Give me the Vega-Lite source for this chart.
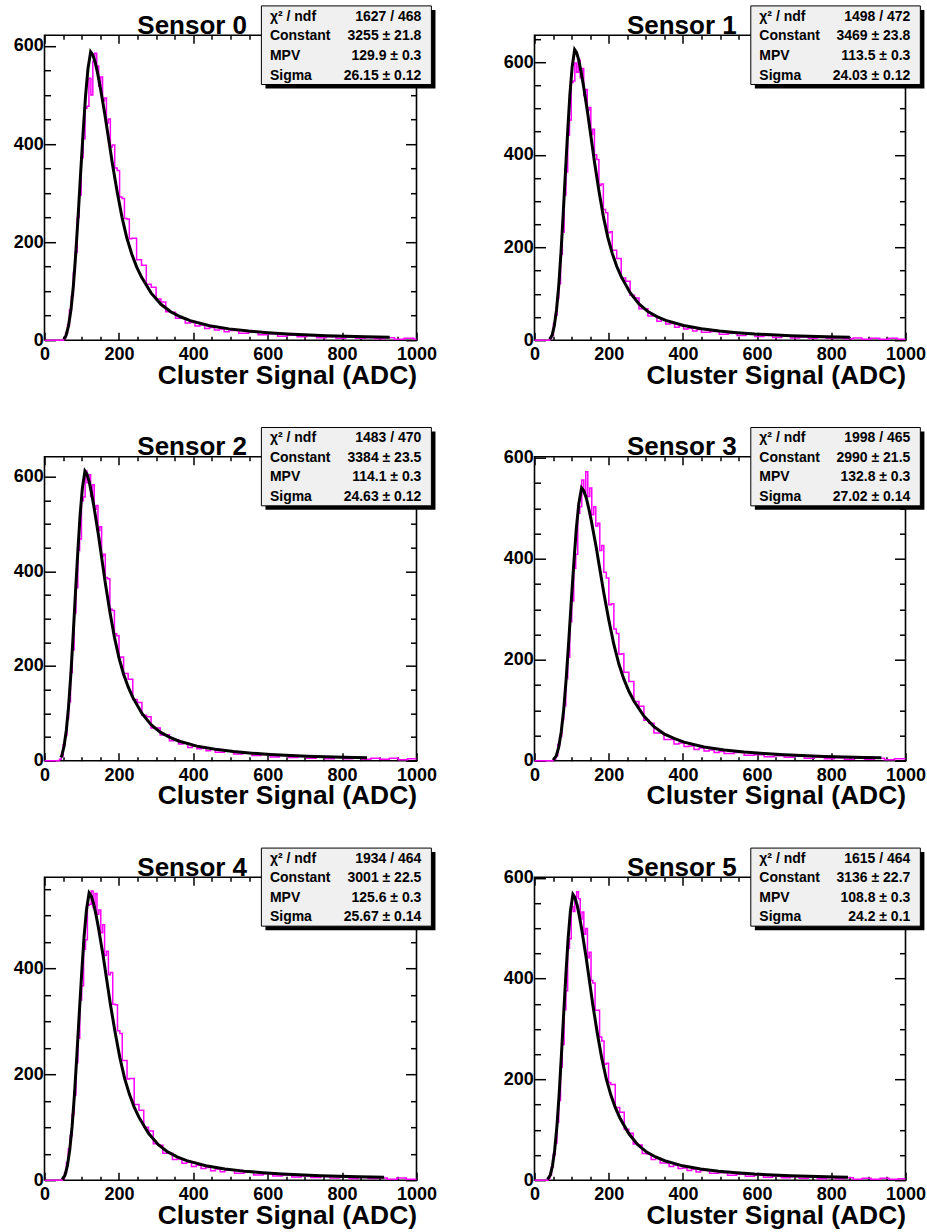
{
"$schema":"https://vega.github.io/schema/vega-lite/v6.json",
"background":"white",
"padding":{"left":11.5,"top":4.2,"right":5,"bottom":5},
"config":{"font":"Liberation Sans","view":{"stroke":"black","strokeWidth":1.6},
"axis":{"domain":false,"grid":false,"labelFont":"Liberation Sans","labelFontWeight":"bold","labelFontSize":18,"labelColor":"black","tickColor":"black","tickWidth":1.5,"titleFont":"Liberation Sans","titleFontWeight":"bold","titleFontSize":26.4,"titleColor":"black","labelOverlap":false,"labelFlush":false}},
"datasets":{
"panels":[{"s":0,"t":"Sensor 0"},{"s":1,"t":"Sensor 1"},{"s":2,"t":"Sensor 2"},{"s":3,"t":"Sensor 3"},{"s":4,"t":"Sensor 4"},{"s":5,"t":"Sensor 5"}],
"stats":[
{"s":0,"r":0,"k":"χ² / ndf","v":"1627 / 468"},{"s":0,"r":1,"k":"Constant","v":"3255 ± 21.8"},{"s":0,"r":2,"k":"MPV","v":"129.9 ± 0.3"},{"s":0,"r":3,"k":"Sigma","v":"26.15 ± 0.12"},
{"s":1,"r":0,"k":"χ² / ndf","v":"1498 / 472"},{"s":1,"r":1,"k":"Constant","v":"3469 ± 23.8"},{"s":1,"r":2,"k":"MPV","v":"113.5 ± 0.3"},{"s":1,"r":3,"k":"Sigma","v":"24.03 ± 0.12"},
{"s":2,"r":0,"k":"χ² / ndf","v":"1483 / 470"},{"s":2,"r":1,"k":"Constant","v":"3384 ± 23.5"},{"s":2,"r":2,"k":"MPV","v":"114.1 ± 0.3"},{"s":2,"r":3,"k":"Sigma","v":"24.63 ± 0.12"},
{"s":3,"r":0,"k":"χ² / ndf","v":"1998 / 465"},{"s":3,"r":1,"k":"Constant","v":"2990 ± 21.5"},{"s":3,"r":2,"k":"MPV","v":"132.8 ± 0.3"},{"s":3,"r":3,"k":"Sigma","v":"27.02 ± 0.14"},
{"s":4,"r":0,"k":"χ² / ndf","v":"1934 / 464"},{"s":4,"r":1,"k":"Constant","v":"3001 ± 22.5"},{"s":4,"r":2,"k":"MPV","v":"125.6 ± 0.3"},{"s":4,"r":3,"k":"Sigma","v":"25.67 ± 0.14"},
{"s":5,"r":0,"k":"χ² / ndf","v":"1615 / 464"},{"s":5,"r":1,"k":"Constant","v":"3136 ± 22.7"},{"s":5,"r":2,"k":"MPV","v":"108.8 ± 0.3"},{"s":5,"r":3,"k":"Sigma","v":"24.2 ± 0.1"}],
"hist":[
{"s":0,"x":0,"y":0},{"s":0,"x":51.5,"y":3},{"s":0,"x":56.7,"y":14},{"s":0,"x":61.9,"y":31},{"s":0,"x":67.1,"y":62},{"s":0,"x":72.4,"y":90},{"s":0,"x":77.6,"y":138},{"s":0,"x":82.8,"y":180},{"s":0,"x":88.1,"y":250},{"s":0,"x":93.3,"y":296},{"s":0,"x":98.5,"y":372},{"s":0,"x":103.8,"y":411},{"s":0,"x":109.0,"y":473},{"s":0,"x":114.2,"y":477},{"s":0,"x":119.4,"y":534},{"s":0,"x":124.7,"y":500},{"s":0,"x":129.9,"y":569},{"s":0,"x":135.1,"y":585},{"s":0,"x":140.4,"y":559},{"s":0,"x":145.6,"y":518},{"s":0,"x":150.8,"y":537},{"s":0,"x":156.1,"y":488},{"s":0,"x":161.3,"y":494},{"s":0,"x":166.5,"y":443},{"s":0,"x":171.7,"y":451},{"s":0,"x":177.0,"y":394},{"s":0,"x":182.2,"y":398},{"s":0,"x":188.7,"y":351},{"s":0,"x":195.3,"y":346},{"s":0,"x":201.8,"y":292},{"s":0,"x":208.4,"y":289},{"s":0,"x":214.9,"y":248},{"s":0,"x":221.4,"y":247},{"s":0,"x":228.0,"y":207},{"s":0,"x":234.5,"y":208},{"s":0,"x":247.6,"y":164},{"s":0,"x":260.7,"y":153},{"s":0,"x":273.7,"y":114},{"s":0,"x":286.8,"y":108},{"s":0,"x":299.9,"y":84},{"s":0,"x":313.0,"y":78},{"s":0,"x":326.0,"y":58},{"s":0,"x":339.1,"y":57},{"s":0,"x":352.2,"y":45},{"s":0,"x":365.3,"y":45},{"s":0,"x":378.3,"y":35},{"s":0,"x":391.4,"y":36},{"s":0,"x":404.5,"y":29},{"s":0,"x":417.6,"y":31},{"s":0,"x":430.6,"y":24},{"s":0,"x":443.7,"y":26},{"s":0,"x":456.8,"y":21},{"s":0,"x":469.9,"y":23},{"s":0,"x":482.9,"y":17},{"s":0,"x":496.0,"y":20},{"s":0,"x":522.2,"y":14},{"s":0,"x":548.3,"y":16},{"s":0,"x":574.5,"y":11},{"s":0,"x":600.6,"y":13},{"s":0,"x":626.8,"y":8},{"s":0,"x":652.9,"y":10},{"s":0,"x":679.1,"y":7},{"s":0,"x":705.2,"y":9},{"s":0,"x":731.4,"y":5},{"s":0,"x":757.5,"y":7},{"s":0,"x":783.7,"y":4},{"s":0,"x":809.8,"y":6},{"s":0,"x":836.0,"y":4},{"s":0,"x":862.1,"y":5},{"s":0,"x":888.3,"y":3},{"s":0,"x":914.4,"y":5},{"s":0,"x":940.6,"y":2},{"s":0,"x":966.7,"y":4},{"s":0,"x":992.9,"y":2},{"s":0,"x":1000,"y":2},
{"s":1,"x":0,"y":0},{"s":1,"x":41.4,"y":3},{"s":1,"x":46.2,"y":10},{"s":1,"x":51.0,"y":35},{"s":1,"x":55.8,"y":54},{"s":1,"x":60.6,"y":90},{"s":1,"x":65.4,"y":122},{"s":1,"x":70.2,"y":185},{"s":1,"x":75.0,"y":233},{"s":1,"x":79.9,"y":313},{"s":1,"x":84.7,"y":363},{"s":1,"x":89.5,"y":442},{"s":1,"x":94.3,"y":475},{"s":1,"x":99.1,"y":556},{"s":1,"x":103.9,"y":559},{"s":1,"x":108.7,"y":598},{"s":1,"x":113.5,"y":578},{"s":1,"x":118.3,"y":604},{"s":1,"x":123.1,"y":566},{"s":1,"x":127.9,"y":586},{"s":1,"x":132.7,"y":528},{"s":1,"x":137.5,"y":541},{"s":1,"x":142.3,"y":496},{"s":1,"x":147.1,"y":502},{"s":1,"x":151.9,"y":444},{"s":1,"x":156.8,"y":455},{"s":1,"x":161.6,"y":400},{"s":1,"x":167.6,"y":390},{"s":1,"x":173.6,"y":334},{"s":1,"x":179.6,"y":337},{"s":1,"x":185.6,"y":282},{"s":1,"x":191.6,"y":275},{"s":1,"x":197.6,"y":232},{"s":1,"x":203.6,"y":234},{"s":1,"x":209.6,"y":194},{"s":1,"x":221.6,"y":176},{"s":1,"x":233.7,"y":134},{"s":1,"x":245.7,"y":127},{"s":1,"x":257.7,"y":97},{"s":1,"x":269.7,"y":91},{"s":1,"x":281.7,"y":68},{"s":1,"x":293.7,"y":68},{"s":1,"x":305.7,"y":52},{"s":1,"x":317.8,"y":53},{"s":1,"x":329.8,"y":41},{"s":1,"x":341.8,"y":44},{"s":1,"x":353.8,"y":35},{"s":1,"x":365.8,"y":36},{"s":1,"x":377.8,"y":28},{"s":1,"x":389.8,"y":31},{"s":1,"x":401.9,"y":24},{"s":1,"x":413.9,"y":26},{"s":1,"x":425.9,"y":20},{"s":1,"x":437.9,"y":23},{"s":1,"x":449.9,"y":17},{"s":1,"x":474.0,"y":19},{"s":1,"x":498.0,"y":13},{"s":1,"x":522.0,"y":15},{"s":1,"x":546.0,"y":10},{"s":1,"x":570.1,"y":13},{"s":1,"x":594.1,"y":8},{"s":1,"x":618.1,"y":10},{"s":1,"x":642.2,"y":6},{"s":1,"x":666.2,"y":9},{"s":1,"x":690.2,"y":5},{"s":1,"x":714.3,"y":7},{"s":1,"x":738.3,"y":4},{"s":1,"x":762.3,"y":6},{"s":1,"x":786.3,"y":4},{"s":1,"x":810.4,"y":5},{"s":1,"x":834.4,"y":3},{"s":1,"x":858.4,"y":5},{"s":1,"x":882.5,"y":2},{"s":1,"x":906.5,"y":4},{"s":1,"x":930.5,"y":2},{"s":1,"x":954.6,"y":4},{"s":1,"x":978.6,"y":2},{"s":1,"x":1000,"y":2},
{"s":2,"x":0,"y":0},{"s":2,"x":40.2,"y":3},{"s":2,"x":45.1,"y":10},{"s":2,"x":50.1,"y":33},{"s":2,"x":55.0,"y":53},{"s":2,"x":59.9,"y":89},{"s":2,"x":64.8,"y":124},{"s":2,"x":69.8,"y":186},{"s":2,"x":74.7,"y":234},{"s":2,"x":79.6,"y":312},{"s":2,"x":84.5,"y":365},{"s":2,"x":89.5,"y":444},{"s":2,"x":94.4,"y":468},{"s":2,"x":99.3,"y":549},{"s":2,"x":104.2,"y":557},{"s":2,"x":109.2,"y":612},{"s":2,"x":114.1,"y":587},{"s":2,"x":119.0,"y":604},{"s":2,"x":124.0,"y":558},{"s":2,"x":128.9,"y":583},{"s":2,"x":133.8,"y":531},{"s":2,"x":138.7,"y":539},{"s":2,"x":143.7,"y":486},{"s":2,"x":148.6,"y":494},{"s":2,"x":153.5,"y":431},{"s":2,"x":158.4,"y":436},{"s":2,"x":163.4,"y":387},{"s":2,"x":169.5,"y":384},{"s":2,"x":175.7,"y":320},{"s":2,"x":181.8,"y":317},{"s":2,"x":188.0,"y":268},{"s":2,"x":194.1,"y":264},{"s":2,"x":200.3,"y":218},{"s":2,"x":206.5,"y":219},{"s":2,"x":212.6,"y":184},{"s":2,"x":224.9,"y":172},{"s":2,"x":237.3,"y":129},{"s":2,"x":249.6,"y":123},{"s":2,"x":261.9,"y":96},{"s":2,"x":274.2,"y":93},{"s":2,"x":286.5,"y":69},{"s":2,"x":298.8,"y":69},{"s":2,"x":311.1,"y":54},{"s":2,"x":323.5,"y":55},{"s":2,"x":335.8,"y":42},{"s":2,"x":348.1,"y":44},{"s":2,"x":360.4,"y":35},{"s":2,"x":372.7,"y":38},{"s":2,"x":385.0,"y":28},{"s":2,"x":397.3,"y":31},{"s":2,"x":409.7,"y":25},{"s":2,"x":422.0,"y":27},{"s":2,"x":434.3,"y":21},{"s":2,"x":446.6,"y":24},{"s":2,"x":458.9,"y":18},{"s":2,"x":483.6,"y":20},{"s":2,"x":508.2,"y":14},{"s":2,"x":532.8,"y":16},{"s":2,"x":557.4,"y":11},{"s":2,"x":582.1,"y":13},{"s":2,"x":606.7,"y":8},{"s":2,"x":631.3,"y":11},{"s":2,"x":656.0,"y":7},{"s":2,"x":680.6,"y":9},{"s":2,"x":705.2,"y":5},{"s":2,"x":729.9,"y":8},{"s":2,"x":754.5,"y":4},{"s":2,"x":779.1,"y":7},{"s":2,"x":803.7,"y":4},{"s":2,"x":828.4,"y":6},{"s":2,"x":853.0,"y":3},{"s":2,"x":877.6,"y":5},{"s":2,"x":902.3,"y":3},{"s":2,"x":926.9,"y":5},{"s":2,"x":951.5,"y":2},{"s":2,"x":976.2,"y":4},{"s":2,"x":1000,"y":4},
{"s":3,"x":0,"y":0},{"s":3,"x":51.7,"y":3},{"s":3,"x":57.1,"y":10},{"s":3,"x":62.5,"y":32},{"s":3,"x":67.9,"y":48},{"s":3,"x":73.4,"y":81},{"s":3,"x":78.8,"y":109},{"s":3,"x":84.2,"y":163},{"s":3,"x":89.6,"y":205},{"s":3,"x":95.0,"y":275},{"s":3,"x":100.4,"y":316},{"s":3,"x":105.8,"y":381},{"s":3,"x":111.2,"y":409},{"s":3,"x":116.6,"y":490},{"s":3,"x":122.0,"y":503},{"s":3,"x":127.4,"y":556},{"s":3,"x":132.8,"y":529},{"s":3,"x":138.2,"y":572},{"s":3,"x":143.6,"y":523},{"s":3,"x":149.0,"y":540},{"s":3,"x":154.4,"y":487},{"s":3,"x":159.8,"y":503},{"s":3,"x":165.2,"y":465},{"s":3,"x":170.6,"y":470},{"s":3,"x":176.0,"y":416},{"s":3,"x":181.4,"y":426},{"s":3,"x":186.8,"y":373},{"s":3,"x":193.6,"y":362},{"s":3,"x":200.4,"y":309},{"s":3,"x":207.1,"y":311},{"s":3,"x":213.9,"y":261},{"s":3,"x":220.6,"y":252},{"s":3,"x":227.4,"y":211},{"s":3,"x":234.1,"y":212},{"s":3,"x":240.9,"y":175},{"s":3,"x":254.4,"y":157},{"s":3,"x":267.9,"y":117},{"s":3,"x":281.4,"y":108},{"s":3,"x":294.9,"y":80},{"s":3,"x":308.4,"y":74},{"s":3,"x":321.9,"y":55},{"s":3,"x":335.5,"y":55},{"s":3,"x":349.0,"y":42},{"s":3,"x":362.5,"y":42},{"s":3,"x":376.0,"y":33},{"s":3,"x":389.5,"y":35},{"s":3,"x":403.0,"y":28},{"s":3,"x":416.5,"y":29},{"s":3,"x":430.0,"y":22},{"s":3,"x":443.5,"y":25},{"s":3,"x":457.0,"y":19},{"s":3,"x":470.6,"y":21},{"s":3,"x":484.1,"y":16},{"s":3,"x":497.6,"y":18},{"s":3,"x":511.1,"y":14},{"s":3,"x":538.1,"y":16},{"s":3,"x":565.1,"y":11},{"s":3,"x":592.1,"y":12},{"s":3,"x":619.2,"y":8},{"s":3,"x":646.2,"y":10},{"s":3,"x":673.2,"y":7},{"s":3,"x":700.2,"y":9},{"s":3,"x":727.2,"y":5},{"s":3,"x":754.3,"y":7},{"s":3,"x":781.3,"y":4},{"s":3,"x":808.3,"y":6},{"s":3,"x":835.3,"y":3},{"s":3,"x":862.3,"y":5},{"s":3,"x":889.4,"y":3},{"s":3,"x":916.4,"y":5},{"s":3,"x":943.4,"y":2},{"s":3,"x":970.4,"y":4},{"s":3,"x":1000,"y":4},
{"s":4,"x":0,"y":0},{"s":4,"x":48.6,"y":3},{"s":4,"x":53.7,"y":13},{"s":4,"x":58.9,"y":33},{"s":4,"x":64.0,"y":59},{"s":4,"x":69.1,"y":84},{"s":4,"x":74.3,"y":124},{"s":4,"x":79.4,"y":161},{"s":4,"x":84.5,"y":222},{"s":4,"x":89.7,"y":268},{"s":4,"x":94.8,"y":340},{"s":4,"x":99.9,"y":367},{"s":4,"x":105.1,"y":436},{"s":4,"x":110.2,"y":454},{"s":4,"x":115.3,"y":519},{"s":4,"x":120.5,"y":521},{"s":4,"x":125.6,"y":546},{"s":4,"x":130.7,"y":515},{"s":4,"x":135.9,"y":541},{"s":4,"x":141.0,"y":502},{"s":4,"x":146.1,"y":510},{"s":4,"x":151.3,"y":467},{"s":4,"x":156.4,"y":482},{"s":4,"x":161.5,"y":424},{"s":4,"x":166.7,"y":432},{"s":4,"x":171.8,"y":388},{"s":4,"x":176.9,"y":392},{"s":4,"x":183.4,"y":332},{"s":4,"x":189.8,"y":331},{"s":4,"x":196.2,"y":282},{"s":4,"x":202.6,"y":277},{"s":4,"x":209.0,"y":226},{"s":4,"x":215.4,"y":226},{"s":4,"x":221.9,"y":191},{"s":4,"x":228.3,"y":192},{"s":4,"x":241.1,"y":143},{"s":4,"x":254.0,"y":132},{"s":4,"x":266.8,"y":100},{"s":4,"x":279.6,"y":93},{"s":4,"x":292.5,"y":69},{"s":4,"x":305.3,"y":66},{"s":4,"x":318.1,"y":51},{"s":4,"x":331.0,"y":51},{"s":4,"x":343.8,"y":39},{"s":4,"x":356.6,"y":40},{"s":4,"x":369.5,"y":32},{"s":4,"x":382.3,"y":34},{"s":4,"x":395.1,"y":26},{"s":4,"x":408.0,"y":28},{"s":4,"x":420.8,"y":22},{"s":4,"x":433.6,"y":24},{"s":4,"x":446.5,"y":18},{"s":4,"x":459.3,"y":21},{"s":4,"x":472.2,"y":16},{"s":4,"x":485.0,"y":19},{"s":4,"x":510.7,"y":13},{"s":4,"x":536.3,"y":15},{"s":4,"x":562.0,"y":10},{"s":4,"x":587.7,"y":12},{"s":4,"x":613.3,"y":8},{"s":4,"x":639.0,"y":10},{"s":4,"x":664.7,"y":6},{"s":4,"x":690.3,"y":8},{"s":4,"x":716.0,"y":5},{"s":4,"x":741.7,"y":7},{"s":4,"x":767.4,"y":4},{"s":4,"x":793.0,"y":6},{"s":4,"x":818.7,"y":3},{"s":4,"x":844.4,"y":5},{"s":4,"x":870.0,"y":3},{"s":4,"x":895.7,"y":4},{"s":4,"x":921.4,"y":2},{"s":4,"x":947.0,"y":4},{"s":4,"x":972.7,"y":2},{"s":4,"x":1000,"y":2},
{"s":5,"x":0,"y":0},{"s":5,"x":36.2,"y":2},{"s":5,"x":41.0,"y":11},{"s":5,"x":45.9,"y":26},{"s":5,"x":50.7,"y":50},{"s":5,"x":55.6,"y":74},{"s":5,"x":60.4,"y":115},{"s":5,"x":65.2,"y":158},{"s":5,"x":70.1,"y":224},{"s":5,"x":74.9,"y":269},{"s":5,"x":79.8,"y":338},{"s":5,"x":84.6,"y":376},{"s":5,"x":89.4,"y":460},{"s":5,"x":94.3,"y":479},{"s":5,"x":99.1,"y":543},{"s":5,"x":104.0,"y":533},{"s":5,"x":108.8,"y":560},{"s":5,"x":113.6,"y":572},{"s":5,"x":118.5,"y":558},{"s":5,"x":123.3,"y":518},{"s":5,"x":128.2,"y":532},{"s":5,"x":133.0,"y":488},{"s":5,"x":137.8,"y":499},{"s":5,"x":142.7,"y":441},{"s":5,"x":147.5,"y":452},{"s":5,"x":152.4,"y":396},{"s":5,"x":157.2,"y":391},{"s":5,"x":163.3,"y":337},{"s":5,"x":169.3,"y":337},{"s":5,"x":175.4,"y":284},{"s":5,"x":181.4,"y":276},{"s":5,"x":187.5,"y":230},{"s":5,"x":193.5,"y":232},{"s":5,"x":199.6,"y":194},{"s":5,"x":205.6,"y":190},{"s":5,"x":217.7,"y":144},{"s":5,"x":229.8,"y":135},{"s":5,"x":241.9,"y":101},{"s":5,"x":254.0,"y":93},{"s":5,"x":266.1,"y":72},{"s":5,"x":278.2,"y":70},{"s":5,"x":290.3,"y":53},{"s":5,"x":302.4,"y":52},{"s":5,"x":314.5,"y":41},{"s":5,"x":326.6,"y":43},{"s":5,"x":338.7,"y":34},{"s":5,"x":350.8,"y":34},{"s":5,"x":362.9,"y":27},{"s":5,"x":375.0,"y":30},{"s":5,"x":387.1,"y":23},{"s":5,"x":399.2,"y":24},{"s":5,"x":411.3,"y":19},{"s":5,"x":423.4,"y":22},{"s":5,"x":435.5,"y":16},{"s":5,"x":447.6,"y":19},{"s":5,"x":471.8,"y":14},{"s":5,"x":496.0,"y":15},{"s":5,"x":520.2,"y":10},{"s":5,"x":544.4,"y":12},{"s":5,"x":568.6,"y":8},{"s":5,"x":592.8,"y":10},{"s":5,"x":617.0,"y":6},{"s":5,"x":641.2,"y":8},{"s":5,"x":665.4,"y":5},{"s":5,"x":689.6,"y":7},{"s":5,"x":713.8,"y":4},{"s":5,"x":738.0,"y":6},{"s":5,"x":762.2,"y":3},{"s":5,"x":786.4,"y":5},{"s":5,"x":810.6,"y":3},{"s":5,"x":834.8,"y":5},{"s":5,"x":859.0,"y":2},{"s":5,"x":883.2,"y":4},{"s":5,"x":907.4,"y":2},{"s":5,"x":931.6,"y":4},{"s":5,"x":955.8,"y":2},{"s":5,"x":980.0,"y":3},{"s":5,"x":1000,"y":3}],
"fit":[
{"s":0,"x":52,"y":2},{"s":0,"x":58.0,"y":9.8},{"s":0,"x":64.5,"y":29.3},{"s":0,"x":71.1,"y":61.8},{"s":0,"x":77.6,"y":110.7},{"s":0,"x":84.1,"y":177.4},{"s":0,"x":90.7,"y":257.1},{"s":0,"x":97.2,"y":341.8},{"s":0,"x":103.8,"y":423.2},{"s":0,"x":110.3,"y":498.0},{"s":0,"x":116.8,"y":553.4},{"s":0,"x":124.1,"y":588.2},{"s":0,"x":129.9,"y":582.0},{"s":0,"x":136.4,"y":566.4},{"s":0,"x":143.0,"y":543.6},{"s":0,"x":149.5,"y":517.5},{"s":0,"x":156.1,"y":488.3},{"s":0,"x":162.6,"y":459.0},{"s":0,"x":169.1,"y":426.4},{"s":0,"x":175.7,"y":393.9},{"s":0,"x":182.2,"y":361.3},{"s":0,"x":195.3,"y":302.7},{"s":0,"x":208.4,"y":250.6},{"s":0,"x":221.4,"y":208.3},{"s":0,"x":234.5,"y":175.8},{"s":0,"x":247.6,"y":149.7},{"s":0,"x":260.7,"y":128.6},{"s":0,"x":286.8,"y":96.0},{"s":0,"x":313.0,"y":73.2},{"s":0,"x":339.1,"y":57.9},{"s":0,"x":365.3,"y":47.8},{"s":0,"x":391.4,"y":40.0},{"s":0,"x":443.7,"y":29.6},{"s":0,"x":496.0,"y":23.1},{"s":0,"x":548.3,"y":18.6},{"s":0,"x":600.6,"y":15.3},{"s":0,"x":652.9,"y":12.7},{"s":0,"x":757.5,"y":9.1},{"s":0,"x":862.1,"y":6.8},{"s":0,"x":928,"y":6.0},
{"s":1,"x":41,"y":2.1},{"s":1,"x":47.4,"y":10.4},{"s":1,"x":53.4,"y":31.2},{"s":1,"x":59.4,"y":65.9},{"s":1,"x":65.4,"y":117.9},{"s":1,"x":71.4,"y":189.1},{"s":1,"x":77.5,"y":274.1},{"s":1,"x":83.5,"y":364.2},{"s":1,"x":89.5,"y":451.0},{"s":1,"x":95.5,"y":530.8},{"s":1,"x":101.5,"y":589.7},{"s":1,"x":108.2,"y":626.8},{"s":1,"x":113.5,"y":620.3},{"s":1,"x":119.5,"y":603.6},{"s":1,"x":125.5,"y":579.3},{"s":1,"x":131.5,"y":551.6},{"s":1,"x":137.5,"y":520.4},{"s":1,"x":143.5,"y":489.1},{"s":1,"x":149.5,"y":454.4},{"s":1,"x":155.6,"y":419.7},{"s":1,"x":161.6,"y":385.1},{"s":1,"x":173.6,"y":322.6},{"s":1,"x":185.6,"y":267.1},{"s":1,"x":197.6,"y":222.0},{"s":1,"x":209.6,"y":187.3},{"s":1,"x":221.6,"y":159.6},{"s":1,"x":233.7,"y":137.0},{"s":1,"x":257.7,"y":102.3},{"s":1,"x":281.7,"y":78.1},{"s":1,"x":305.7,"y":61.7},{"s":1,"x":329.8,"y":51.0},{"s":1,"x":353.8,"y":42.7},{"s":1,"x":401.9,"y":31.6},{"s":1,"x":449.9,"y":24.6},{"s":1,"x":498.0,"y":19.8},{"s":1,"x":546.0,"y":16.3},{"s":1,"x":594.1,"y":13.5},{"s":1,"x":690.2,"y":9.7},{"s":1,"x":786.3,"y":7.3},{"s":1,"x":850,"y":6.3},
{"s":2,"x":44,"y":6.8},{"s":2,"x":46.4,"y":10.2},{"s":2,"x":52.5,"y":30.5},{"s":2,"x":58.7,"y":64.3},{"s":2,"x":64.8,"y":115.1},{"s":2,"x":71.0,"y":184.4},{"s":2,"x":77.2,"y":267.3},{"s":2,"x":83.3,"y":355.3},{"s":2,"x":89.5,"y":439.9},{"s":2,"x":95.6,"y":517.8},{"s":2,"x":101.8,"y":575.3},{"s":2,"x":108.7,"y":611.5},{"s":2,"x":114.1,"y":605.1},{"s":2,"x":120.3,"y":588.8},{"s":2,"x":126.4,"y":565.1},{"s":2,"x":132.6,"y":538.1},{"s":2,"x":138.7,"y":507.6},{"s":2,"x":144.9,"y":477.1},{"s":2,"x":151.0,"y":443.3},{"s":2,"x":157.2,"y":409.5},{"s":2,"x":163.4,"y":375.6},{"s":2,"x":175.7,"y":314.7},{"s":2,"x":188.0,"y":260.6},{"s":2,"x":200.3,"y":216.6},{"s":2,"x":212.6,"y":182.7},{"s":2,"x":224.9,"y":155.7},{"s":2,"x":237.3,"y":133.7},{"s":2,"x":261.9,"y":99.8},{"s":2,"x":286.5,"y":76.1},{"s":2,"x":311.1,"y":60.2},{"s":2,"x":335.8,"y":49.7},{"s":2,"x":360.4,"y":41.6},{"s":2,"x":409.7,"y":30.8},{"s":2,"x":458.9,"y":24.0},{"s":2,"x":508.2,"y":19.3},{"s":2,"x":557.4,"y":15.9},{"s":2,"x":606.7,"y":13.2},{"s":2,"x":705.2,"y":9.5},{"s":2,"x":803.7,"y":7.1},{"s":2,"x":867,"y":6.1},
{"s":3,"x":50,"y":1.2},{"s":3,"x":58.5,"y":9.0},{"s":3,"x":65.3,"y":26.9},{"s":3,"x":72.0,"y":56.8},{"s":3,"x":78.8,"y":101.7},{"s":3,"x":85.5,"y":163.0},{"s":3,"x":92.3,"y":236.2},{"s":3,"x":99.0,"y":314.0},{"s":3,"x":105.8,"y":388.7},{"s":3,"x":112.5,"y":457.5},{"s":3,"x":119.3,"y":508.3},{"s":3,"x":126.9,"y":540.3},{"s":3,"x":132.8,"y":534.6},{"s":3,"x":139.6,"y":520.3},{"s":3,"x":146.3,"y":499.3},{"s":3,"x":153.1,"y":475.4},{"s":3,"x":159.8,"y":448.5},{"s":3,"x":166.6,"y":421.6},{"s":3,"x":173.3,"y":391.7},{"s":3,"x":180.1,"y":361.8},{"s":3,"x":186.8,"y":331.9},{"s":3,"x":200.4,"y":278.1},{"s":3,"x":213.9,"y":230.2},{"s":3,"x":227.4,"y":191.4},{"s":3,"x":240.9,"y":161.5},{"s":3,"x":254.4,"y":137.5},{"s":3,"x":267.9,"y":118.1},{"s":3,"x":294.9,"y":88.2},{"s":3,"x":321.9,"y":67.3},{"s":3,"x":349.0,"y":53.2},{"s":3,"x":376.0,"y":44.0},{"s":3,"x":403.0,"y":36.8},{"s":3,"x":457.0,"y":27.2},{"s":3,"x":511.1,"y":21.2},{"s":3,"x":565.1,"y":17.0},{"s":3,"x":619.2,"y":14.1},{"s":3,"x":673.2,"y":11.7},{"s":3,"x":781.3,"y":8.4},{"s":3,"x":889.4,"y":6.3},{"s":3,"x":935,"y":5.7},
{"s":4,"x":47.5,"y":1.4},{"s":4,"x":55.0,"y":9.0},{"s":4,"x":61.4,"y":27.0},{"s":4,"x":67.8,"y":57.0},{"s":4,"x":74.3,"y":102.0},{"s":4,"x":80.7,"y":163.6},{"s":4,"x":87.1,"y":237.1},{"s":4,"x":93.5,"y":315.1},{"s":4,"x":99.9,"y":390.1},{"s":4,"x":106.3,"y":459.2},{"s":4,"x":112.8,"y":510.2},{"s":4,"x":119.9,"y":542.3},{"s":4,"x":125.6,"y":536.6},{"s":4,"x":132.0,"y":522.2},{"s":4,"x":138.4,"y":501.2},{"s":4,"x":144.9,"y":477.2},{"s":4,"x":151.3,"y":450.2},{"s":4,"x":157.7,"y":423.1},{"s":4,"x":164.1,"y":393.1},{"s":4,"x":170.5,"y":363.1},{"s":4,"x":176.9,"y":333.1},{"s":4,"x":189.8,"y":279.1},{"s":4,"x":202.6,"y":231.1},{"s":4,"x":215.4,"y":192.1},{"s":4,"x":228.3,"y":162.1},{"s":4,"x":241.1,"y":138.0},{"s":4,"x":254.0,"y":118.5},{"s":4,"x":279.6,"y":88.5},{"s":4,"x":305.3,"y":67.5},{"s":4,"x":331.0,"y":53.4},{"s":4,"x":356.6,"y":44.1},{"s":4,"x":382.3,"y":36.9},{"s":4,"x":433.6,"y":27.3},{"s":4,"x":485.0,"y":21.3},{"s":4,"x":536.3,"y":17.1},{"s":4,"x":587.7,"y":14.1},{"s":4,"x":639.0,"y":11.7},{"s":4,"x":741.7,"y":8.4},{"s":4,"x":844.4,"y":6.3},{"s":4,"x":913,"y":5.4},
{"s":5,"x":35,"y":1.6},{"s":5,"x":42.3,"y":9.4},{"s":5,"x":48.3,"y":28.2},{"s":5,"x":54.4,"y":59.6},{"s":5,"x":60.4,"y":106.6},{"s":5,"x":66.5,"y":170.9},{"s":5,"x":72.5,"y":247.7},{"s":5,"x":78.6,"y":329.3},{"s":5,"x":84.6,"y":407.7},{"s":5,"x":90.7,"y":479.8},{"s":5,"x":96.7,"y":533.1},{"s":5,"x":103.5,"y":566.7},{"s":5,"x":108.8,"y":560.7},{"s":5,"x":114.9,"y":545.7},{"s":5,"x":120.9,"y":523.7},{"s":5,"x":127.0,"y":498.6},{"s":5,"x":133.0,"y":470.4},{"s":5,"x":139.1,"y":442.2},{"s":5,"x":145.1,"y":410.8},{"s":5,"x":151.2,"y":379.5},{"s":5,"x":157.2,"y":348.1},{"s":5,"x":169.3,"y":291.6},{"s":5,"x":181.4,"y":241.5},{"s":5,"x":193.5,"y":200.7},{"s":5,"x":205.6,"y":169.3},{"s":5,"x":217.7,"y":144.3},{"s":5,"x":229.8,"y":123.9},{"s":5,"x":254.0,"y":92.5},{"s":5,"x":278.2,"y":70.6},{"s":5,"x":302.4,"y":55.8},{"s":5,"x":326.6,"y":46.1},{"s":5,"x":350.8,"y":38.6},{"s":5,"x":399.2,"y":28.5},{"s":5,"x":447.6,"y":22.3},{"s":5,"x":496.0,"y":17.9},{"s":5,"x":544.4,"y":14.7},{"s":5,"x":592.8,"y":12.2},{"s":5,"x":689.6,"y":8.8},{"s":5,"x":786.4,"y":6.6},{"s":5,"x":845,"y":6.0}]
},
"columns":2,
"spacing":{"row":116.5,"column":118},
"bounds":"flush",
"concat":[
{"width":372,"height":305,"layer":[
 {"layer":[
  {"data":{"name":"hist"},"transform":[{"filter":"datum.s == 0"}],"mark":{"type":"line","interpolate":"step-after","color":"#ff00ff","strokeWidth":1.5},
   "encoding":{"x":{"field":"x","type":"quantitative","scale":{"domain":[0,1000],"nice":false},"axis":{"orient":"bottom","values":[0,50,100,150,200,250,300,350,400,450,500,550,600,650,700,750,800,850,900,950,1000],"format":"d","labelExpr":"datum.value % 200 === 0 ? datum.label : ''","tickSize":{"condition":{"test":"datum.value % 200 === 0","value":-8},"value":-4},"labelPadding":13.5,"title":"Cluster Signal (ADC)","titleAnchor":"end","titlePadding":-5.5}},
   "y":{"field":"y","type":"quantitative","scale":{"domain":[0,622],"nice":false},"axis":{"orient":"left","values":[0,50,100,150,200,250,300,350,400,450,500,550,600,650],"format":"d","labelExpr":"datum.value % 200 === 0 ? datum.label : ''","tickSize":{"condition":{"test":"datum.value % 200 === 0","value":-11},"value":-6},"labelPadding":12.3,"title":null}}}},
  {"data":{"name":"fit"},"transform":[{"filter":"datum.s == 0"}],"mark":{"type":"line","color":"black","strokeWidth":3},
   "encoding":{"x":{"field":"x","type":"quantitative","scale":{"domain":[0,1000],"nice":false},"axis":{"orient":"top","values":[0,50,100,150,200,250,300,350,400,450,500,550,600,650,700,750,800,850,900,950,1000],"labels":false,"tickSize":{"condition":{"test":"datum.value % 200 === 0","value":-8},"value":-4},"title":null}},
   "y":{"field":"y","type":"quantitative","scale":{"domain":[0,622],"nice":false},"axis":{"orient":"right","values":[0,50,100,150,200,250,300,350,400,450,500,550,600,650],"labels":false,"tickSize":{"condition":{"test":"datum.value % 200 === 0","value":-11},"value":-6},"title":null}}}}
 ],"resolve":{"axis":{"x":"independent","y":"independent"}}},
 {"data":{"name":"panels"},"transform":[{"filter":"datum.s == 0"}],"layer":[
  {"mark":{"type":"rect","fill":"black"},"encoding":{"x":{"datum":0.594,"type":"quantitative","scale":{"domain":[0,1],"nice":false,"zero":false},"axis":null},"x2":{"datum":1.051},"y":{"datum":-0.55,"type":"quantitative","scale":{"domain":[0.738,16.26],"reverse":true,"nice":false,"zero":false},"axis":null},"y2":{"datum":3.45}}},
  {"mark":{"type":"rect","fill":"#f0f0f0","stroke":"black","strokeWidth":1},"encoding":{"x":{"datum":0.583,"type":"quantitative","scale":{"domain":[0,1],"nice":false,"zero":false},"axis":null},"x2":{"datum":1.04},"y":{"datum":-0.753,"type":"quantitative","scale":{"domain":[0.738,16.26],"reverse":true,"nice":false,"zero":false},"axis":null},"y2":{"datum":3.247}}},
  {"mark":{"type":"text","font":"Liberation Sans","fontWeight":"bold","fontSize":26,"align":"center","baseline":"alphabetic","color":"black"},"encoding":{"x":{"datum":0.397,"type":"quantitative","scale":{"domain":[0,1],"nice":false,"zero":false},"axis":null},"y":{"datum":0.672,"type":"quantitative","scale":{"domain":[0.738,16.26],"reverse":true,"nice":false,"zero":false},"axis":null},"text":{"field":"t"}}}
 ]},
 {"data":{"name":"stats"},"transform":[{"filter":"datum.s == 0"}],"layer":[
  {"mark":{"type":"text","font":"Liberation Sans","fontWeight":"bold","fontSize":14,"align":"left","baseline":"alphabetic","color":"black"},"encoding":{"x":{"datum":0.606,"type":"quantitative","scale":{"domain":[0,1],"nice":false,"zero":false},"axis":null},"y":{"field":"r","type":"quantitative","scale":{"domain":[0.738,16.26],"reverse":true,"nice":false,"zero":false},"axis":null},"text":{"field":"k"}}},
  {"mark":{"type":"text","font":"Liberation Sans","fontWeight":"bold","fontSize":14,"align":"right","baseline":"alphabetic","color":"black"},"encoding":{"x":{"datum":1.013,"type":"quantitative","scale":{"domain":[0,1],"nice":false,"zero":false},"axis":null},"y":{"field":"r","type":"quantitative","scale":{"domain":[0.738,16.26],"reverse":true,"nice":false,"zero":false},"axis":null},"text":{"field":"v"}}}
 ]}
],"resolve":{"scale":{"x":"independent","y":"independent"}}},
{"width":371,"height":305,"layer":[
 {"layer":[
  {"data":{"name":"hist"},"transform":[{"filter":"datum.s == 1"}],"mark":{"type":"line","interpolate":"step-after","color":"#ff00ff","strokeWidth":1.5},
   "encoding":{"x":{"field":"x","type":"quantitative","scale":{"domain":[0,1000],"nice":false},"axis":{"orient":"bottom","values":[0,50,100,150,200,250,300,350,400,450,500,550,600,650,700,750,800,850,900,950,1000],"format":"d","labelExpr":"datum.value % 200 === 0 ? datum.label : ''","tickSize":{"condition":{"test":"datum.value % 200 === 0","value":-8},"value":-4},"labelPadding":13.5,"title":"Cluster Signal (ADC)","titleAnchor":"end","titlePadding":-5.5}},
   "y":{"field":"y","type":"quantitative","scale":{"domain":[0,658],"nice":false},"axis":{"orient":"left","values":[0,50,100,150,200,250,300,350,400,450,500,550,600,650],"format":"d","labelExpr":"datum.value % 200 === 0 ? datum.label : ''","tickSize":{"condition":{"test":"datum.value % 200 === 0","value":-11},"value":-6},"labelPadding":12.3,"title":null}}}},
  {"data":{"name":"fit"},"transform":[{"filter":"datum.s == 1"}],"mark":{"type":"line","color":"black","strokeWidth":3},
   "encoding":{"x":{"field":"x","type":"quantitative","scale":{"domain":[0,1000],"nice":false},"axis":{"orient":"top","values":[0,50,100,150,200,250,300,350,400,450,500,550,600,650,700,750,800,850,900,950,1000],"labels":false,"tickSize":{"condition":{"test":"datum.value % 200 === 0","value":-8},"value":-4},"title":null}},
   "y":{"field":"y","type":"quantitative","scale":{"domain":[0,658],"nice":false},"axis":{"orient":"right","values":[0,50,100,150,200,250,300,350,400,450,500,550,600,650],"labels":false,"tickSize":{"condition":{"test":"datum.value % 200 === 0","value":-11},"value":-6},"title":null}}}}
 ],"resolve":{"axis":{"x":"independent","y":"independent"}}},
 {"data":{"name":"panels"},"transform":[{"filter":"datum.s == 1"}],"layer":[
  {"mark":{"type":"rect","fill":"black"},"encoding":{"x":{"datum":0.594,"type":"quantitative","scale":{"domain":[0,1],"nice":false,"zero":false},"axis":null},"x2":{"datum":1.051},"y":{"datum":-0.55,"type":"quantitative","scale":{"domain":[0.738,16.26],"reverse":true,"nice":false,"zero":false},"axis":null},"y2":{"datum":3.45}}},
  {"mark":{"type":"rect","fill":"#f0f0f0","stroke":"black","strokeWidth":1},"encoding":{"x":{"datum":0.583,"type":"quantitative","scale":{"domain":[0,1],"nice":false,"zero":false},"axis":null},"x2":{"datum":1.04},"y":{"datum":-0.753,"type":"quantitative","scale":{"domain":[0.738,16.26],"reverse":true,"nice":false,"zero":false},"axis":null},"y2":{"datum":3.247}}},
  {"mark":{"type":"text","font":"Liberation Sans","fontWeight":"bold","fontSize":26,"align":"center","baseline":"alphabetic","color":"black"},"encoding":{"x":{"datum":0.397,"type":"quantitative","scale":{"domain":[0,1],"nice":false,"zero":false},"axis":null},"y":{"datum":0.672,"type":"quantitative","scale":{"domain":[0.738,16.26],"reverse":true,"nice":false,"zero":false},"axis":null},"text":{"field":"t"}}}
 ]},
 {"data":{"name":"stats"},"transform":[{"filter":"datum.s == 1"}],"layer":[
  {"mark":{"type":"text","font":"Liberation Sans","fontWeight":"bold","fontSize":14,"align":"left","baseline":"alphabetic","color":"black"},"encoding":{"x":{"datum":0.606,"type":"quantitative","scale":{"domain":[0,1],"nice":false,"zero":false},"axis":null},"y":{"field":"r","type":"quantitative","scale":{"domain":[0.738,16.26],"reverse":true,"nice":false,"zero":false},"axis":null},"text":{"field":"k"}}},
  {"mark":{"type":"text","font":"Liberation Sans","fontWeight":"bold","fontSize":14,"align":"right","baseline":"alphabetic","color":"black"},"encoding":{"x":{"datum":1.013,"type":"quantitative","scale":{"domain":[0,1],"nice":false,"zero":false},"axis":null},"y":{"field":"r","type":"quantitative","scale":{"domain":[0.738,16.26],"reverse":true,"nice":false,"zero":false},"axis":null},"text":{"field":"v"}}}
 ]}
],"resolve":{"scale":{"x":"independent","y":"independent"}}},
{"width":372,"height":304,"layer":[
 {"layer":[
  {"data":{"name":"hist"},"transform":[{"filter":"datum.s == 2"}],"mark":{"type":"line","interpolate":"step-after","color":"#ff00ff","strokeWidth":1.5},
   "encoding":{"x":{"field":"x","type":"quantitative","scale":{"domain":[0,1000],"nice":false},"axis":{"orient":"bottom","values":[0,50,100,150,200,250,300,350,400,450,500,550,600,650,700,750,800,850,900,950,1000],"format":"d","labelExpr":"datum.value % 200 === 0 ? datum.label : ''","tickSize":{"condition":{"test":"datum.value % 200 === 0","value":-8},"value":-4},"labelPadding":13.5,"title":"Cluster Signal (ADC)","titleAnchor":"end","titlePadding":-5.5}},
   "y":{"field":"y","type":"quantitative","scale":{"domain":[0,642],"nice":false},"axis":{"orient":"left","values":[0,50,100,150,200,250,300,350,400,450,500,550,600,650],"format":"d","labelExpr":"datum.value % 200 === 0 ? datum.label : ''","tickSize":{"condition":{"test":"datum.value % 200 === 0","value":-11},"value":-6},"labelPadding":12.3,"title":null}}}},
  {"data":{"name":"fit"},"transform":[{"filter":"datum.s == 2"}],"mark":{"type":"line","color":"black","strokeWidth":3},
   "encoding":{"x":{"field":"x","type":"quantitative","scale":{"domain":[0,1000],"nice":false},"axis":{"orient":"top","values":[0,50,100,150,200,250,300,350,400,450,500,550,600,650,700,750,800,850,900,950,1000],"labels":false,"tickSize":{"condition":{"test":"datum.value % 200 === 0","value":-8},"value":-4},"title":null}},
   "y":{"field":"y","type":"quantitative","scale":{"domain":[0,642],"nice":false},"axis":{"orient":"right","values":[0,50,100,150,200,250,300,350,400,450,500,550,600,650],"labels":false,"tickSize":{"condition":{"test":"datum.value % 200 === 0","value":-11},"value":-6},"title":null}}}}
 ],"resolve":{"axis":{"x":"independent","y":"independent"}}},
 {"data":{"name":"panels"},"transform":[{"filter":"datum.s == 2"}],"layer":[
  {"mark":{"type":"rect","fill":"black"},"encoding":{"x":{"datum":0.594,"type":"quantitative","scale":{"domain":[0,1],"nice":false,"zero":false},"axis":null},"x2":{"datum":1.051},"y":{"datum":-0.55,"type":"quantitative","scale":{"domain":[0.738,16.26],"reverse":true,"nice":false,"zero":false},"axis":null},"y2":{"datum":3.45}}},
  {"mark":{"type":"rect","fill":"#f0f0f0","stroke":"black","strokeWidth":1},"encoding":{"x":{"datum":0.583,"type":"quantitative","scale":{"domain":[0,1],"nice":false,"zero":false},"axis":null},"x2":{"datum":1.04},"y":{"datum":-0.753,"type":"quantitative","scale":{"domain":[0.738,16.26],"reverse":true,"nice":false,"zero":false},"axis":null},"y2":{"datum":3.247}}},
  {"mark":{"type":"text","font":"Liberation Sans","fontWeight":"bold","fontSize":26,"align":"center","baseline":"alphabetic","color":"black"},"encoding":{"x":{"datum":0.397,"type":"quantitative","scale":{"domain":[0,1],"nice":false,"zero":false},"axis":null},"y":{"datum":0.672,"type":"quantitative","scale":{"domain":[0.738,16.26],"reverse":true,"nice":false,"zero":false},"axis":null},"text":{"field":"t"}}}
 ]},
 {"data":{"name":"stats"},"transform":[{"filter":"datum.s == 2"}],"layer":[
  {"mark":{"type":"text","font":"Liberation Sans","fontWeight":"bold","fontSize":14,"align":"left","baseline":"alphabetic","color":"black"},"encoding":{"x":{"datum":0.606,"type":"quantitative","scale":{"domain":[0,1],"nice":false,"zero":false},"axis":null},"y":{"field":"r","type":"quantitative","scale":{"domain":[0.738,16.26],"reverse":true,"nice":false,"zero":false},"axis":null},"text":{"field":"k"}}},
  {"mark":{"type":"text","font":"Liberation Sans","fontWeight":"bold","fontSize":14,"align":"right","baseline":"alphabetic","color":"black"},"encoding":{"x":{"datum":1.013,"type":"quantitative","scale":{"domain":[0,1],"nice":false,"zero":false},"axis":null},"y":{"field":"r","type":"quantitative","scale":{"domain":[0.738,16.26],"reverse":true,"nice":false,"zero":false},"axis":null},"text":{"field":"v"}}}
 ]}
],"resolve":{"scale":{"x":"independent","y":"independent"}}},
{"width":371,"height":304,"layer":[
 {"layer":[
  {"data":{"name":"hist"},"transform":[{"filter":"datum.s == 3"}],"mark":{"type":"line","interpolate":"step-after","color":"#ff00ff","strokeWidth":1.5},
   "encoding":{"x":{"field":"x","type":"quantitative","scale":{"domain":[0,1000],"nice":false},"axis":{"orient":"bottom","values":[0,50,100,150,200,250,300,350,400,450,500,550,600,650,700,750,800,850,900,950,1000],"format":"d","labelExpr":"datum.value % 200 === 0 ? datum.label : ''","tickSize":{"condition":{"test":"datum.value % 200 === 0","value":-8},"value":-4},"labelPadding":13.5,"title":"Cluster Signal (ADC)","titleAnchor":"end","titlePadding":-5.5}},
   "y":{"field":"y","type":"quantitative","scale":{"domain":[0,602],"nice":false},"axis":{"orient":"left","values":[0,50,100,150,200,250,300,350,400,450,500,550,600,650],"format":"d","labelExpr":"datum.value % 200 === 0 ? datum.label : ''","tickSize":{"condition":{"test":"datum.value % 200 === 0","value":-11},"value":-6},"labelPadding":12.3,"title":null}}}},
  {"data":{"name":"fit"},"transform":[{"filter":"datum.s == 3"}],"mark":{"type":"line","color":"black","strokeWidth":3},
   "encoding":{"x":{"field":"x","type":"quantitative","scale":{"domain":[0,1000],"nice":false},"axis":{"orient":"top","values":[0,50,100,150,200,250,300,350,400,450,500,550,600,650,700,750,800,850,900,950,1000],"labels":false,"tickSize":{"condition":{"test":"datum.value % 200 === 0","value":-8},"value":-4},"title":null}},
   "y":{"field":"y","type":"quantitative","scale":{"domain":[0,602],"nice":false},"axis":{"orient":"right","values":[0,50,100,150,200,250,300,350,400,450,500,550,600,650],"labels":false,"tickSize":{"condition":{"test":"datum.value % 200 === 0","value":-11},"value":-6},"title":null}}}}
 ],"resolve":{"axis":{"x":"independent","y":"independent"}}},
 {"data":{"name":"panels"},"transform":[{"filter":"datum.s == 3"}],"layer":[
  {"mark":{"type":"rect","fill":"black"},"encoding":{"x":{"datum":0.594,"type":"quantitative","scale":{"domain":[0,1],"nice":false,"zero":false},"axis":null},"x2":{"datum":1.051},"y":{"datum":-0.55,"type":"quantitative","scale":{"domain":[0.738,16.26],"reverse":true,"nice":false,"zero":false},"axis":null},"y2":{"datum":3.45}}},
  {"mark":{"type":"rect","fill":"#f0f0f0","stroke":"black","strokeWidth":1},"encoding":{"x":{"datum":0.583,"type":"quantitative","scale":{"domain":[0,1],"nice":false,"zero":false},"axis":null},"x2":{"datum":1.04},"y":{"datum":-0.753,"type":"quantitative","scale":{"domain":[0.738,16.26],"reverse":true,"nice":false,"zero":false},"axis":null},"y2":{"datum":3.247}}},
  {"mark":{"type":"text","font":"Liberation Sans","fontWeight":"bold","fontSize":26,"align":"center","baseline":"alphabetic","color":"black"},"encoding":{"x":{"datum":0.397,"type":"quantitative","scale":{"domain":[0,1],"nice":false,"zero":false},"axis":null},"y":{"datum":0.672,"type":"quantitative","scale":{"domain":[0.738,16.26],"reverse":true,"nice":false,"zero":false},"axis":null},"text":{"field":"t"}}}
 ]},
 {"data":{"name":"stats"},"transform":[{"filter":"datum.s == 3"}],"layer":[
  {"mark":{"type":"text","font":"Liberation Sans","fontWeight":"bold","fontSize":14,"align":"left","baseline":"alphabetic","color":"black"},"encoding":{"x":{"datum":0.606,"type":"quantitative","scale":{"domain":[0,1],"nice":false,"zero":false},"axis":null},"y":{"field":"r","type":"quantitative","scale":{"domain":[0.738,16.26],"reverse":true,"nice":false,"zero":false},"axis":null},"text":{"field":"k"}}},
  {"mark":{"type":"text","font":"Liberation Sans","fontWeight":"bold","fontSize":14,"align":"right","baseline":"alphabetic","color":"black"},"encoding":{"x":{"datum":1.013,"type":"quantitative","scale":{"domain":[0,1],"nice":false,"zero":false},"axis":null},"y":{"field":"r","type":"quantitative","scale":{"domain":[0.738,16.26],"reverse":true,"nice":false,"zero":false},"axis":null},"text":{"field":"v"}}}
 ]}
],"resolve":{"scale":{"x":"independent","y":"independent"}}},
{"width":372,"height":303,"layer":[
 {"layer":[
  {"data":{"name":"hist"},"transform":[{"filter":"datum.s == 4"}],"mark":{"type":"line","interpolate":"step-after","color":"#ff00ff","strokeWidth":1.5},
   "encoding":{"x":{"field":"x","type":"quantitative","scale":{"domain":[0,1000],"nice":false},"axis":{"orient":"bottom","values":[0,50,100,150,200,250,300,350,400,450,500,550,600,650,700,750,800,850,900,950,1000],"format":"d","labelExpr":"datum.value % 200 === 0 ? datum.label : ''","tickSize":{"condition":{"test":"datum.value % 200 === 0","value":-8},"value":-4},"labelPadding":13.5,"title":"Cluster Signal (ADC)","titleAnchor":"end","titlePadding":-5.5}},
   "y":{"field":"y","type":"quantitative","scale":{"domain":[0,572],"nice":false},"axis":{"orient":"left","values":[0,50,100,150,200,250,300,350,400,450,500,550,600,650],"format":"d","labelExpr":"datum.value % 200 === 0 ? datum.label : ''","tickSize":{"condition":{"test":"datum.value % 200 === 0","value":-11},"value":-6},"labelPadding":12.3,"title":null}}}},
  {"data":{"name":"fit"},"transform":[{"filter":"datum.s == 4"}],"mark":{"type":"line","color":"black","strokeWidth":3},
   "encoding":{"x":{"field":"x","type":"quantitative","scale":{"domain":[0,1000],"nice":false},"axis":{"orient":"top","values":[0,50,100,150,200,250,300,350,400,450,500,550,600,650,700,750,800,850,900,950,1000],"labels":false,"tickSize":{"condition":{"test":"datum.value % 200 === 0","value":-8},"value":-4},"title":null}},
   "y":{"field":"y","type":"quantitative","scale":{"domain":[0,572],"nice":false},"axis":{"orient":"right","values":[0,50,100,150,200,250,300,350,400,450,500,550,600,650],"labels":false,"tickSize":{"condition":{"test":"datum.value % 200 === 0","value":-11},"value":-6},"title":null}}}}
 ],"resolve":{"axis":{"x":"independent","y":"independent"}}},
 {"data":{"name":"panels"},"transform":[{"filter":"datum.s == 4"}],"layer":[
  {"mark":{"type":"rect","fill":"black"},"encoding":{"x":{"datum":0.594,"type":"quantitative","scale":{"domain":[0,1],"nice":false,"zero":false},"axis":null},"x2":{"datum":1.051},"y":{"datum":-0.55,"type":"quantitative","scale":{"domain":[0.738,16.26],"reverse":true,"nice":false,"zero":false},"axis":null},"y2":{"datum":3.45}}},
  {"mark":{"type":"rect","fill":"#f0f0f0","stroke":"black","strokeWidth":1},"encoding":{"x":{"datum":0.583,"type":"quantitative","scale":{"domain":[0,1],"nice":false,"zero":false},"axis":null},"x2":{"datum":1.04},"y":{"datum":-0.753,"type":"quantitative","scale":{"domain":[0.738,16.26],"reverse":true,"nice":false,"zero":false},"axis":null},"y2":{"datum":3.247}}},
  {"mark":{"type":"text","font":"Liberation Sans","fontWeight":"bold","fontSize":26,"align":"center","baseline":"alphabetic","color":"black"},"encoding":{"x":{"datum":0.397,"type":"quantitative","scale":{"domain":[0,1],"nice":false,"zero":false},"axis":null},"y":{"datum":0.672,"type":"quantitative","scale":{"domain":[0.738,16.26],"reverse":true,"nice":false,"zero":false},"axis":null},"text":{"field":"t"}}}
 ]},
 {"data":{"name":"stats"},"transform":[{"filter":"datum.s == 4"}],"layer":[
  {"mark":{"type":"text","font":"Liberation Sans","fontWeight":"bold","fontSize":14,"align":"left","baseline":"alphabetic","color":"black"},"encoding":{"x":{"datum":0.606,"type":"quantitative","scale":{"domain":[0,1],"nice":false,"zero":false},"axis":null},"y":{"field":"r","type":"quantitative","scale":{"domain":[0.738,16.26],"reverse":true,"nice":false,"zero":false},"axis":null},"text":{"field":"k"}}},
  {"mark":{"type":"text","font":"Liberation Sans","fontWeight":"bold","fontSize":14,"align":"right","baseline":"alphabetic","color":"black"},"encoding":{"x":{"datum":1.013,"type":"quantitative","scale":{"domain":[0,1],"nice":false,"zero":false},"axis":null},"y":{"field":"r","type":"quantitative","scale":{"domain":[0.738,16.26],"reverse":true,"nice":false,"zero":false},"axis":null},"text":{"field":"v"}}}
 ]}
],"resolve":{"scale":{"x":"independent","y":"independent"}}},
{"width":371,"height":303,"layer":[
 {"layer":[
  {"data":{"name":"hist"},"transform":[{"filter":"datum.s == 5"}],"mark":{"type":"line","interpolate":"step-after","color":"#ff00ff","strokeWidth":1.5},
   "encoding":{"x":{"field":"x","type":"quantitative","scale":{"domain":[0,1000],"nice":false},"axis":{"orient":"bottom","values":[0,50,100,150,200,250,300,350,400,450,500,550,600,650,700,750,800,850,900,950,1000],"format":"d","labelExpr":"datum.value % 200 === 0 ? datum.label : ''","tickSize":{"condition":{"test":"datum.value % 200 === 0","value":-8},"value":-4},"labelPadding":13.5,"title":"Cluster Signal (ADC)","titleAnchor":"end","titlePadding":-5.5}},
   "y":{"field":"y","type":"quantitative","scale":{"domain":[0,601],"nice":false},"axis":{"orient":"left","values":[0,50,100,150,200,250,300,350,400,450,500,550,600,650],"format":"d","labelExpr":"datum.value % 200 === 0 ? datum.label : ''","tickSize":{"condition":{"test":"datum.value % 200 === 0","value":-11},"value":-6},"labelPadding":12.3,"title":null}}}},
  {"data":{"name":"fit"},"transform":[{"filter":"datum.s == 5"}],"mark":{"type":"line","color":"black","strokeWidth":3},
   "encoding":{"x":{"field":"x","type":"quantitative","scale":{"domain":[0,1000],"nice":false},"axis":{"orient":"top","values":[0,50,100,150,200,250,300,350,400,450,500,550,600,650,700,750,800,850,900,950,1000],"labels":false,"tickSize":{"condition":{"test":"datum.value % 200 === 0","value":-8},"value":-4},"title":null}},
   "y":{"field":"y","type":"quantitative","scale":{"domain":[0,601],"nice":false},"axis":{"orient":"right","values":[0,50,100,150,200,250,300,350,400,450,500,550,600,650],"labels":false,"tickSize":{"condition":{"test":"datum.value % 200 === 0","value":-11},"value":-6},"title":null}}}}
 ],"resolve":{"axis":{"x":"independent","y":"independent"}}},
 {"data":{"name":"panels"},"transform":[{"filter":"datum.s == 5"}],"layer":[
  {"mark":{"type":"rect","fill":"black"},"encoding":{"x":{"datum":0.594,"type":"quantitative","scale":{"domain":[0,1],"nice":false,"zero":false},"axis":null},"x2":{"datum":1.051},"y":{"datum":-0.55,"type":"quantitative","scale":{"domain":[0.738,16.26],"reverse":true,"nice":false,"zero":false},"axis":null},"y2":{"datum":3.45}}},
  {"mark":{"type":"rect","fill":"#f0f0f0","stroke":"black","strokeWidth":1},"encoding":{"x":{"datum":0.583,"type":"quantitative","scale":{"domain":[0,1],"nice":false,"zero":false},"axis":null},"x2":{"datum":1.04},"y":{"datum":-0.753,"type":"quantitative","scale":{"domain":[0.738,16.26],"reverse":true,"nice":false,"zero":false},"axis":null},"y2":{"datum":3.247}}},
  {"mark":{"type":"text","font":"Liberation Sans","fontWeight":"bold","fontSize":26,"align":"center","baseline":"alphabetic","color":"black"},"encoding":{"x":{"datum":0.397,"type":"quantitative","scale":{"domain":[0,1],"nice":false,"zero":false},"axis":null},"y":{"datum":0.672,"type":"quantitative","scale":{"domain":[0.738,16.26],"reverse":true,"nice":false,"zero":false},"axis":null},"text":{"field":"t"}}}
 ]},
 {"data":{"name":"stats"},"transform":[{"filter":"datum.s == 5"}],"layer":[
  {"mark":{"type":"text","font":"Liberation Sans","fontWeight":"bold","fontSize":14,"align":"left","baseline":"alphabetic","color":"black"},"encoding":{"x":{"datum":0.606,"type":"quantitative","scale":{"domain":[0,1],"nice":false,"zero":false},"axis":null},"y":{"field":"r","type":"quantitative","scale":{"domain":[0.738,16.26],"reverse":true,"nice":false,"zero":false},"axis":null},"text":{"field":"k"}}},
  {"mark":{"type":"text","font":"Liberation Sans","fontWeight":"bold","fontSize":14,"align":"right","baseline":"alphabetic","color":"black"},"encoding":{"x":{"datum":1.013,"type":"quantitative","scale":{"domain":[0,1],"nice":false,"zero":false},"axis":null},"y":{"field":"r","type":"quantitative","scale":{"domain":[0.738,16.26],"reverse":true,"nice":false,"zero":false},"axis":null},"text":{"field":"v"}}}
 ]}
],"resolve":{"scale":{"x":"independent","y":"independent"}}}
]
}
